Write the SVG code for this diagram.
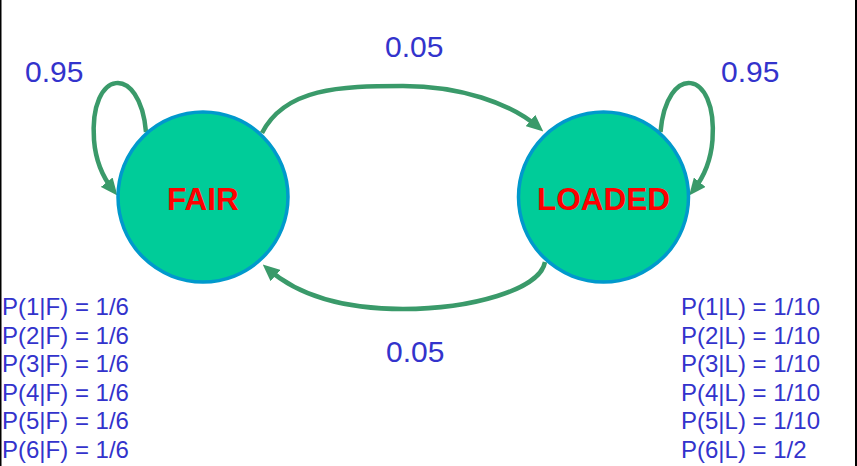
<svg xmlns="http://www.w3.org/2000/svg" width="857" height="466" viewBox="0 0 857 466">
<defs>
<style>
.state{fill:#00CC99;stroke:#0099CC;stroke-width:3.5}
.sname{font-family:"Liberation Sans",Arial,sans-serif;font-weight:bold;font-size:31.5px;fill:#FF0000;text-anchor:middle}
.lbl{font-family:"Liberation Sans",Arial,sans-serif;font-size:30px;fill:#3333CC}
.prob{font-family:"Liberation Sans",Arial,sans-serif;font-size:24px;fill:#3333CC}
.edge{fill:none;stroke:#3A9A6A;stroke-width:4.5;marker-end:url(#ah)}
</style>
<marker id="ah" markerWidth="17" markerHeight="15" refX="10" refY="7.5" orient="auto" markerUnits="userSpaceOnUse">
<path d="M0,0 L17,7.5 L0,15 z" fill="#3A9A6A"/>
</marker>
</defs>
<rect x="0" y="0" width="857" height="466" fill="#FFFFFF"/>
<rect x="0" y="0" width="1.5" height="466" fill="#000000"/>
<rect x="855" y="0" width="2" height="466" fill="#000000"/>
<g id="connectors">
<path class="edge" d="M146 132 C140 63 89 68 94 140 C96 165 105 180 113 190"/>
<path class="edge" d="M660.5 132 C666.5 63 717.5 68 712.5 140 C710.5 165 701.5 180 693.5 190"/>
<path class="edge" d="M262 133 C285 88 340 86 403 86 C460 86 510 103 538 127"/>
<path class="edge" d="M545 262 C540 290 470 309 403 309 C345 309 300 297 268 269"/>
</g>
<g id="fair">
<circle class="state" cx="203" cy="197" r="85"/>
<text class="sname" x="203" y="210">FAIR</text>
</g>
<g id="loaded">
<circle class="state" cx="603.5" cy="197" r="85"/>
<text class="sname" x="603.5" y="210">LOADED</text>
</g>
<g id="labels">
<text class="lbl" x="25" y="82">0.95</text>
<text class="lbl" x="721" y="82">0.95</text>
<text class="lbl" x="385" y="57">0.05</text>
<text class="lbl" x="386" y="362">0.05</text>
</g>
<g id="fair-emissions" class="prob">
<text x="2" y="315">P(1|F) = 1/6</text>
<text x="2" y="343.5">P(2|F) = 1/6</text>
<text x="2" y="372">P(3|F) = 1/6</text>
<text x="2" y="400.5">P(4|F) = 1/6</text>
<text x="2" y="429">P(5|F) = 1/6</text>
<text x="2" y="457.5">P(6|F) = 1/6</text>
</g>
<g id="loaded-emissions" class="prob">
<text x="681" y="315">P(1|L) = 1/10</text>
<text x="681" y="343.5">P(2|L) = 1/10</text>
<text x="681" y="372">P(3|L) = 1/10</text>
<text x="681" y="400.5">P(4|L) = 1/10</text>
<text x="681" y="429">P(5|L) = 1/10</text>
<text x="681" y="457.5">P(6|L) = 1/2</text>
</g>
</svg>
